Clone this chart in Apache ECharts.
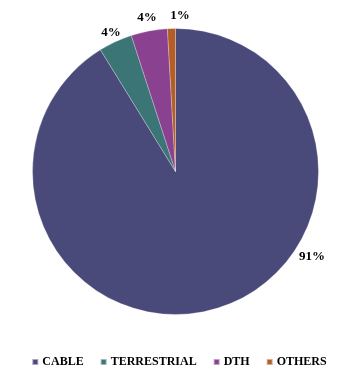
<!DOCTYPE html>
<html><head><meta charset="utf-8">
<script src="https://cdn.jsdelivr.net/npm/echarts@6/dist/echarts.min.js"></script>
<style>html,body{margin:0;padding:0;background:#fff}#c{width:358px;height:379px}</style>
</head><body><div id="c"></div>
<script>
var categories = ['CABLE', 'TERRESTRIAL', 'DTH', 'OTHERS'];
var values = [91.2, 3.8, 4.1, 0.9];
var colors = ['#4a4a7a', '#3c7575', '#8a4290', '#b35e27'];
var labelPos = [[312, 257], [111, 33], [147, 18], [180, 16]];

var chart = echarts.init(document.getElementById('c'));
chart.setOption({
  animation: false,
  color: colors,
  legend: {
    top: 351,
    left: 'center',
    itemWidth: 6,
    itemHeight: 6,
    itemGap: 16,
    icon: 'rect',
    textStyle: { fontFamily: 'Liberation Serif', fontWeight: 'bold', fontSize: 12, color: '#000', padding: [0, 0, 0, -1] },
    data: categories
  },
  series: [{
    type: 'pie',
    center: [175.5, 171.5],
    radius: 143,
    startAngle: 90,
    clockwise: true,
    itemStyle: { borderColor: 'rgba(255,255,255,0.5)', borderWidth: 0.5 },
    label: {
      show: true,
      position: 'outside',
      fontFamily: 'Liberation Serif',
      fontWeight: 'bold',
      fontSize: 13,
      color: '#000',
      formatter: function (p) { return Math.round(p.percent) + '%'; }
    },
    labelLine: { show: false },
    labelLayout: function (p) {
      var pos = labelPos[p.dataIndex];
      return { x: pos[0], y: pos[1], align: 'center', verticalAlign: 'middle' };
    },
    emphasis: { disabled: true },
    data: categories.map(function (c, i) { return { name: c, value: values[i] }; })
  }]
});
</script>
</body></html>
